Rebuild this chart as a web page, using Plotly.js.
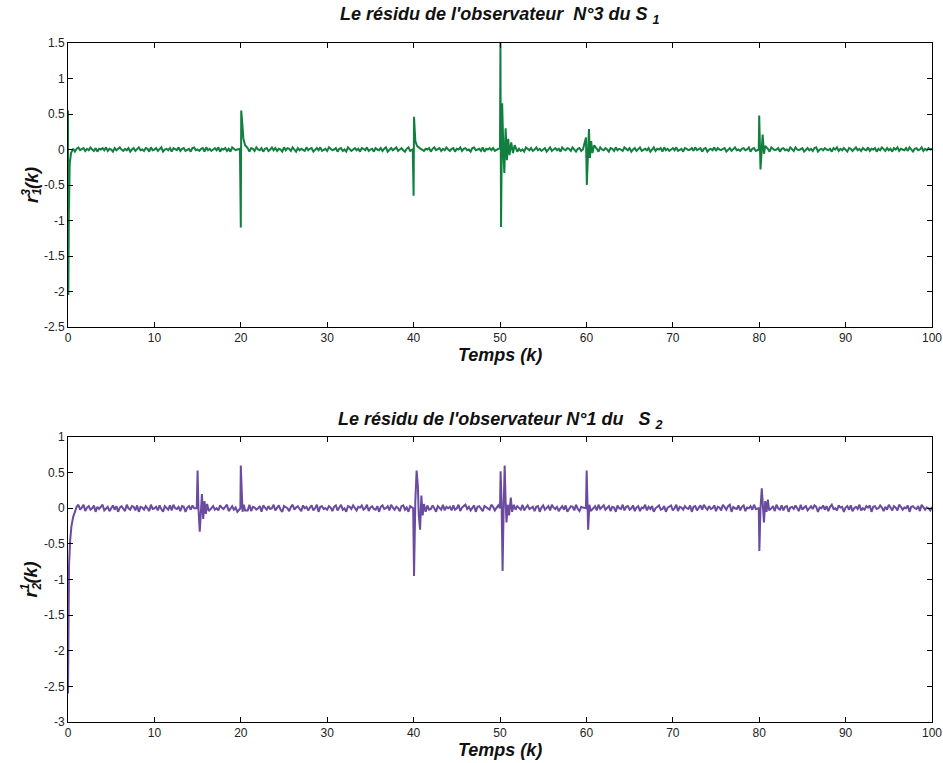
<!DOCTYPE html>
<html>
<head>
<meta charset="utf-8">
<script src="https://cdn.plot.ly/plotly-3.0.1.min.js"></script>
<style>html,body{margin:0;padding:0;background:#fff;}#chart{width:943px;height:763px;}</style>
</head>
<body>
<div id="chart"></div>
<script>
// ---------- data ----------
const noiseStep = 0.2; // sampling step of the baseline residual (k)

// baseline residual, observer N°3 of S1 (k = 0, 0.2, ..., 100)
const noise1 = [
.01,-.02,.02,.00,-.03,.01,.03,-.01,.00,.02,
-.02,.01,-.01,.03,.00,-.02,.02,-.03,.01,.00,
.02,-.01,.03,-.02,.01,.00,-.03,.02,-.01,.01,
.03,.00,-.02,.01,-.01,.02,-.03,.00,.02,-.02,
.01,.03,-.01,.00,-.02,.02,.01,-.03,.03,-.01,
.00,.02,-.02,.01,.03,-.03,.00,.01,-.01,.02,
-.03,.02,.00,-.01,.03,-.02,.01,.02,-.02,.00,
.01,-.03,.02,.03,-.01,.00,-.02,.01,.02,-.03,
.03,-.01,.01,-.02,.00,.02,-.01,.03,-.03,.01,
.00,.02,-.02,.01,-.03,.03,.01,-.01,.00,.02,
-.01,.03,-.02,.00,.01,-.03,.02,.01,-.02,.03,
.00,-.01,.02,-.03,.01,.02,-.02,.00,.03,-.01,
.02,-.02,.01,.00,-.03,.03,-.01,.02,.01,-.02,
.03,.00,-.03,.02,-.01,.01,.00,-.02,.03,-.01,
.01,.02,-.03,.00,.02,-.01,.03,-.02,.00,.01,
-.02,.03,.01,-.01,.00,.02,-.03,.01,.02,-.02,
.00,-.03,.03,.01,-.02,.00,.02,-.01,.01,-.03,
.02,.01,-.01,.03,-.02,.00,.01,-.03,.02,.00,
-.01,.02,-.02,.01,.03,-.03,.00,.02,-.01,.01,
.03,-.02,.00,.02,-.01,-.03,.01,.03,-.02,.00,
.01,-.01,.02,-.03,.03,.00,-.02,.01,.00,.02,
-.03,.01,.03,-.01,.00,.02,-.02,.01,-.01,.03,
.00,-.02,.01,.02,-.03,.01,.00,.03,-.02,.01,
.02,-.01,.00,-.03,.02,.03,-.01,.00,.01,-.02,
.03,-.03,.01,.00,.02,-.01,.02,-.02,.00,.01,
-.01,.02,-.03,.03,.01,-.02,.00,.02,-.01,.00,
.02,.01,-.02,.00,-.03,.03,.01,-.01,.02,-.02,
.00,.03,-.01,.01,-.02,.00,.02,-.03,.01,.03,
-.02,.00,.02,-.01,.01,-.03,.03,.00,-.01,.02,
.01,-.02,.03,.00,-.03,.01,.02,-.02,.00,-.01,
.03,.01,-.01,.02,-.02,.00,.01,-.03,.03,.00,
-.01,.02,.00,-.03,.02,.01,-.02,.03,-.01,.01,
.00,-.02,.03,.01,-.01,.02,-.03,.00,.02,-.02,
.01,.03,-.02,.00,.01,-.01,.02,-.03,.00,.03,
-.02,.01,.00,.02,-.03,.03,-.01,.01,-.02,.00,
.02,-.01,.03,-.02,.00,.01,-.03,.02,.01,-.01,
.00,.02,-.02,.03,-.01,.00,.02,-.03,.01,.02,
-.03,.00,.01,-.01,.03,-.02,.02,.00,-.01,.01,
.02,-.03,.00,.02,-.02,.01,.03,-.01,.00,-.02,
.01,.02,-.01,.00,.03,-.03,.01,.02,-.02,.00,
.03,-.01,.02,-.02,.00,.01,-.03,.03,.01,-.01,
.00,.02,-.03,.01,.02,-.01,.00,-.02,.03,.01,
-.02,.03,.00,-.01,.01,.02,-.03,.00,.02,-.01,
.01,-.02,.02,.03,-.03,.00,.01,-.01,.02,.00,
-.01,.01,-.03,.02,.00,.03,-.02,.01,-.01,.02,
.00,-.03,.02,.01,-.02,.00,.03,-.01,.01,-.02,
.02,.00,-.01,.03,-.02,.01,.00,.02,-.03,.01,
-.01,.03,.00,-.02,.02,-.01,.01,-.03,.02,.00,
.03,-.02,.01,.00,-.01,.02,-.02,.03,.00,-.03,
.01,.02,-.01,.00,.03,-.02,.01,-.01,.02,.00,
.01];

// transient / fault responses of r1^3 (k, value)
const eventK1 = [
0,0.04,0.1,0.2,0.35,0.6,
19.9,20.0,20.05,20.15,20.3,20.5,20.8,
39.9,40.0,40.05,40.2,40.4,40.7,
50.0,50.05,50.12,50.25,50.4,50.5,50.65,50.8,50.95,51.1,51.3,51.5,51.7,52.0,
59.95,60.05,60.2,60.3,60.4,60.55,60.7,60.9,
79.95,80.0,80.15,80.3,80.4,80.55,80.7];
const eventR1 = [
0.55,-2.05,-0.9,-0.2,-0.05,0.01,
0.01,-1.1,0.55,0.4,0.15,0.06,0.02,
0.0,-0.65,0.46,0.12,0.05,0.02,
0.02,1.5,-1.09,0.65,-0.05,-0.33,0.3,-0.15,0.15,-0.08,0.1,-0.05,0.06,-0.03,
0.17,-0.5,0.0,0.29,-0.12,0.12,-0.05,0.06,
0.0,0.48,-0.28,0.0,0.21,-0.06,0.05];

// baseline residual, observer N°1 of S2 (k = 0, 0.2, ..., 100)
const noise2 = [
.02,-.03,.04,.00,-.05,.02,.03,-.02,.01,.05,
-.04,.01,.03,-.02,.00,.04,-.05,.02,-.01,.03,
.05,-.03,.00,.02,-.04,.01,.04,-.02,.03,-.05,
.01,.03,-.01,-.04,.05,.00,-.02,.03,.02,-.03,
.04,-.05,.02,.01,-.02,.03,.00,-.04,.05,-.01,
.00,.02,-.03,.04,-.01,-.05,.03,.01,-.02,.04,
-.03,.05,.00,-.01,.02,-.04,.03,.02,-.05,.01,
.03,-.02,.04,.00,-.03,.02,-.01,.05,-.04,.00,
.02,.04,-.05,.01,.03,-.02,.00,-.03,.04,.01,
-.01,.02,.05,-.04,.00,.03,-.02,.01,-.05,.03,
.04,-.01,.00,.02,-.03,.05,-.04,.02,.01,-.02,
.00,.03,-.05,.04,.01,-.02,.03,-.01,.00,.05,
-.03,.01,.04,-.02,-.05,.03,.02,.00,-.04,.02,
.05,-.02,.01,.03,-.01,-.04,.04,.00,.02,-.03,
.01,.04,-.03,.00,.05,-.05,.02,.03,-.01,.00,
-.02,.03,.01,-.04,.02,.04,-.03,.01,.05,-.02,
.00,-.05,.03,.02,-.01,.04,.00,-.03,.02,.01,
.04,-.02,.00,.05,-.04,.01,.03,-.01,-.02,.03,
-.05,.02,.04,-.01,.00,.03,-.03,.05,.01,-.02,
.02,.00,-.04,.03,.04,-.02,.01,-.05,.03,.00,
.03,-.03,.05,-.01,.01,.02,-.04,.00,.04,-.02,
-.01,.04,.00,-.05,.03,.01,-.02,.05,-.03,.02,
.00,.02,-.03,.04,-.02,.00,.05,-.04,.01,.03,
.05,-.01,.02,-.03,.00,.04,-.05,.02,.03,-.01,
-.04,.03,.01,.00,-.02,.05,.02,-.03,.00,.04,
.01,-.05,.04,.02,-.01,.00,.03,-.04,.05,-.02,
.03,.00,-.02,.05,-.03,.01,.04,-.01,.00,.02,
-.04,.02,.03,-.05,.01,.04,-.02,.00,.03,-.03,
.05,.01,-.01,.02,-.04,.00,.03,-.02,.04,-.05,
.00,.03,.02,-.03,.05,-.01,-.04,.02,.01,.03,
-.02,.04,-.05,.01,.00,.03,-.03,.05,-.01,.02,
.04,-.02,.00,.03,-.04,.02,.01,-.05,.04,.00,
-.01,.05,-.03,.02,.03,-.02,.00,.04,-.04,.01,
.03,-.04,.01,.00,.05,-.03,.02,-.01,.03,-.05,
.00,.02,.04,-.02,-.01,.03,-.05,.01,.02,.04,
-.03,.00,.05,-.04,.02,.01,-.02,.03,.00,-.01,
.04,-.05,.02,.03,-.03,.00,.04,-.02,.05,.01,
-.02,.03,-.01,.00,.04,-.04,.02,.01,-.03,.05,
.01,-.02,.03,.05,-.05,.02,.00,-.01,.04,-.03,
.02,.04,-.04,.01,.00,.03,-.02,.05,-.01,.00,
-.05,.03,.02,-.03,.04,.01,-.01,.00,.03,-.04,
.05,.00,-.02,.04,-.03,.02,.03,-.05,.01,.02,
-.01,.04,.00,-.04,.05,-.02,.01,.03,-.03,.00,
.03,-.01,.04,.02,-.05,.01,.00,.04,-.02,.03,
-.04,.02,.05,-.01,.00,-.03,.04,.01,.02,-.05,
.01,.03,-.02,.04,-.04,.00,.02,-.01,.05,-.03,
.00,-.02,.03,.01,.04,-.05,.02,.03,-.01,.00,
.04,.01,-.04,.02,-.02,.05,.00,-.03,.03,.01,
-.03,.05,.02,-.02,.01,.00,.04,-.05,.02,.03,
.00,-.01,.03,-.04,.05,.02,-.02,.01,.00,-.03,
.02];

// transient / fault responses of r2^1 (k, value)
const eventK2 = [
0,0.05,0.12,0.25,0.4,0.6,0.8,1.0,1.2,
14.9,15.0,15.1,15.25,15.4,15.5,15.65,15.8,15.95,16.1,16.3,
19.95,20.0,20.1,20.2,20.35,20.5,
39.95,40.05,40.2,40.35,40.5,40.6,40.75,40.9,41.05,41.2,41.4,
50.0,50.07,50.18,50.3,50.42,50.54,50.65,50.75,50.9,51.05,51.25,51.4,
59.95,60.03,60.12,60.2,60.35,60.5,
79.95,80.02,80.15,80.3,80.45,80.55,80.7,80.85,81.0,81.15];
const eventR2 = [
-2.6,-1.3,-0.8,-0.45,-0.25,-0.12,-0.05,0.02,0.05,
0.0,0.53,0.0,-0.33,0.05,0.2,-0.15,0.1,-0.08,0.06,-0.04,
0.0,0.6,0.05,-0.05,0.05,-0.03,
0.0,-0.95,0.1,0.53,0.3,-0.1,-0.3,0.18,-0.1,0.06,-0.05,
0.0,0.52,0.1,-0.88,0.0,0.6,0.1,-0.2,0.05,-0.1,0.15,-0.05,
0.0,0.53,0.0,-0.3,0.05,-0.04,
0.0,-0.6,0.0,0.28,-0.05,-0.2,0.1,-0.05,0.12,-0.03];

const xTickVals = [0,10,20,30,40,50,60,70,80,90,100];
const y1TickVals = [-2.5,-2,-1.5,-1,-0.5,0,0.5,1,1.5];
const y1TickText = ['-2.5','-2','-1.5','-1','-0.5','0','0.5','1','1.5'];
const y2TickVals = [-3,-2.5,-2,-1.5,-1,-0.5,0,0.5,1];
const y2TickText = ['-3','-2.5','-2','-1.5','-1','-0.5','0','0.5','1'];

// ---------- merge baseline samples with event samples ----------
function merge(noise, ek, ev) {
  const pts = [];
  noise.forEach((v, i) => {
    const k = i * noiseStep;
    if (!ek.some(e => Math.abs(e - k) < 0.19)) pts.push([k, v]);
  });
  ek.forEach((k, i) => pts.push([k, ev[i]]));
  pts.sort((a, b) => a[0] - b[0]);
  return {x: pts.map(p => p[0]), y: pts.map(p => p[1])};
}
const s1 = merge(noise1, eventK1, eventR1);
const s2 = merge(noise2, eventK2, eventR2);

const FONT = 'Liberation Sans, Arial, Helvetica, sans-serif';
const bi = (size) => ({family: FONT, size: size, color: '#111', weight: 'bold', style: 'italic'});

const traces = [
  {x: s1.x, y: s1.y, type: 'scatter', mode: 'lines', xaxis: 'x', yaxis: 'y',
   line: {color: '#11803e', width: 2}, hoverinfo: 'skip'},
  {x: s2.x, y: s2.y, type: 'scatter', mode: 'lines', xaxis: 'x2', yaxis: 'y2',
   line: {color: '#6a4ba0', width: 2}, hoverinfo: 'skip'}
];

function xax(anchor) {
  return {anchor: anchor, range: [0, 100], tickvals: xTickVals, ticks: 'inside', ticklen: 5,
    showline: true, mirror: 'ticks', linecolor: '#000', linewidth: 1, tickcolor: '#000',
    showgrid: false, zeroline: false, tickfont: {family: FONT, size: 12, color: '#222'}};
}
function yax(anchor, dom, range, tv, tt) {
  return {anchor: anchor, domain: dom, range: range, tickvals: tv, ticktext: tt, ticks: 'inside', ticklen: 5,
    showline: true, mirror: 'ticks', linecolor: '#000', linewidth: 1, tickcolor: '#000',
    showgrid: false, zeroline: false, tickfont: {family: FONT, size: 12, color: '#222'}};
}

const layout = {
  width: 943, height: 763,
  margin: {l: 68, r: 11, t: 43, b: 41},
  paper_bgcolor: '#fff', plot_bgcolor: '#fff',
  showlegend: false,
  xaxis: xax('y'),
  yaxis: yax('x', [0.5817, 1], [-2.5, 1.5], y1TickVals, y1TickText),
  xaxis2: xax('y2'),
  yaxis2: yax('x2', [0, 0.4197], [-3, 1], y2TickVals, y2TickText),
  annotations: [
    {text: "Le résidu de l'observateur  N°3 du S <sub>1</sub>", xref: 'paper', yref: 'y domain',
     x: 0.5, y: 1, yshift: 28, showarrow: false, font: bi(18), yanchor: 'middle'},
    {text: "Le résidu de l'observateur N°1 du   S <sub>2</sub>", xref: 'paper', yref: 'y2 domain',
     x: 0.5, y: 1, yshift: 17, showarrow: false, font: bi(18), yanchor: 'middle'},
    {text: 'Temps (k)', xref: 'paper', yref: 'y domain', x: 0.5, y: 0, yshift: -28,
     showarrow: false, font: bi(18), yanchor: 'middle'},
    {text: 'Temps (k)', xref: 'paper', yref: 'y2 domain', x: 0.5, y: 0, yshift: -28,
     showarrow: false, font: bi(18), yanchor: 'middle'},
    {text: 'r<sup>3</sup>(k)', xref: 'paper', yref: 'y domain', x: 0, y: 0.5, xshift: -38,
     textangle: -90, showarrow: false, font: bi(18), xanchor: 'center', yanchor: 'middle'},
    {text: '1', xref: 'paper', yref: 'y domain', x: 0, y: 0.5, xshift: -31, yshift: -7,
     textangle: -90, showarrow: false, font: bi(12), xanchor: 'center', yanchor: 'middle'},
    {text: 'r<sup>1</sup>(k)', xref: 'paper', yref: 'y2 domain', x: 0, y: 0.5, xshift: -38,
     textangle: -90, showarrow: false, font: bi(18), xanchor: 'center', yanchor: 'middle'},
    {text: '2', xref: 'paper', yref: 'y2 domain', x: 0, y: 0.5, xshift: -31, yshift: -7,
     textangle: -90, showarrow: false, font: bi(12), xanchor: 'center', yanchor: 'middle'}
  ]
};

Plotly.newPlot('chart', traces, layout, {displayModeBar: false, staticPlot: true});
</script>
</body>
</html>
